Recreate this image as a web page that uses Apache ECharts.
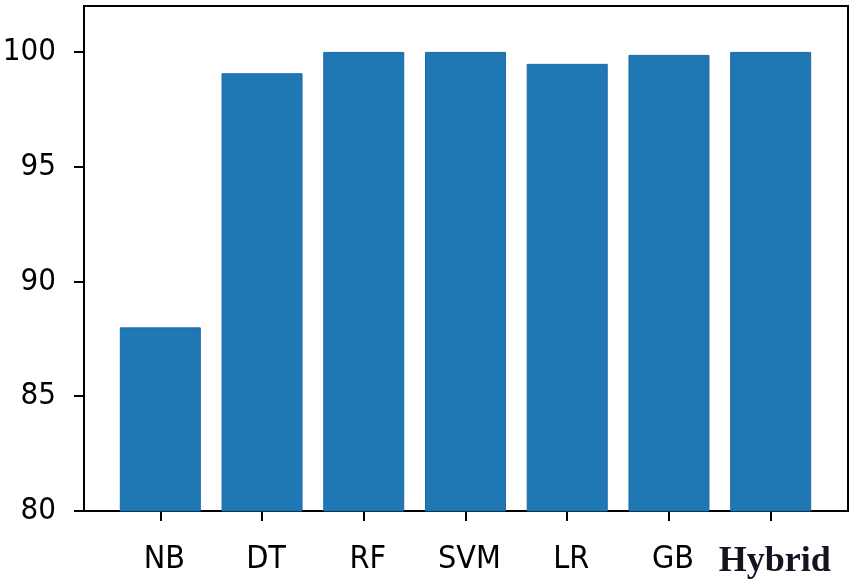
<!DOCTYPE html>
<html>
<head>
<meta charset="utf-8">
<script src="https://cdn.jsdelivr.net/npm/echarts@6/dist/echarts.min.js"></script>
<style>
  html, body { margin: 0; padding: 0; background: #fff; }
  #chart { width: 857px; height: 584px; }
</style>
</head>
<body>
<div id="chart"></div>
<script>
// 数据
var categories = ['NB', 'DT', 'RF', 'SVM', 'LR', 'GB', 'Hybrid']
var accuracy = [88, 99.07, 100, 100, 99.48, 99.87, 100]
var yTicks = [80, 85, 90, 95, 100]
var xTicks = [0, 1, 2, 3, 4, 5, 6]

var labelFont = '"DejaVu Sans Condensed", "Liberation Sans Narrow", sans-serif'

var myChart = echarts.init(document.getElementById('chart'))

var option = {
  animation: false,
  grid: {
    left: 84,
    right: 9,
    top: 6,
    bottom: 73,
    outerBoundsMode: 'none',
    containLabel: false,
    show: true,
    borderColor: '#000',
    borderWidth: 2,
    backgroundColor: '#fff'
  },
  xAxis: {
    type: 'value',
    min: -0.75,
    max: 6.76,
    splitLine: { show: false },
    axisLine: { show: true, onZero: false, lineStyle: { color: '#000', width: 2 } },
    axisTick: {
      show: true,
      length: 10,
      customValues: xTicks,
      lineStyle: { color: '#000', width: 2 }
    },
    axisLabel: {
      customValues: xTicks,
      margin: 33,
      padding: [0, 0, 0, 8],
      color: '#000',
      fontFamily: labelFont,
      fontSize: 32,
      formatter: function (v) {
        var name = categories[Math.round(v)]
        if (name === 'Hybrid') {
          return '{h|' + name + '}'
        }
        return name
      },
      rich: {
        h: {
          fontFamily: '"Liberation Serif", "DejaVu Serif", serif',
          fontWeight: 'bold',
          fontSize: 36,
          color: '#141420'
        }
      }
    }
  },
  yAxis: {
    type: 'value',
    min: 80,
    max: 102,
    splitLine: { show: false },
    axisLine: { show: true, onZero: false, lineStyle: { color: '#000', width: 2 } },
    axisTick: {
      show: true,
      length: 10,
      customValues: yTicks,
      lineStyle: { color: '#000', width: 2 }
    },
    axisLabel: {
      customValues: yTicks,
      margin: 28,
      color: '#000',
      fontFamily: labelFont,
      fontSize: 31
    }
  },
  series: [
    {
      type: 'bar',
      barWidth: 81,
      itemStyle: {
        color: '#1f77b4',
        borderColor: '#1a6aa8',
        borderWidth: 1
      },
      data: accuracy.map(function (v, i) {
        return [i, v]
      })
    }
  ]
}

myChart.setOption(option)
</script>
</body>
</html>
